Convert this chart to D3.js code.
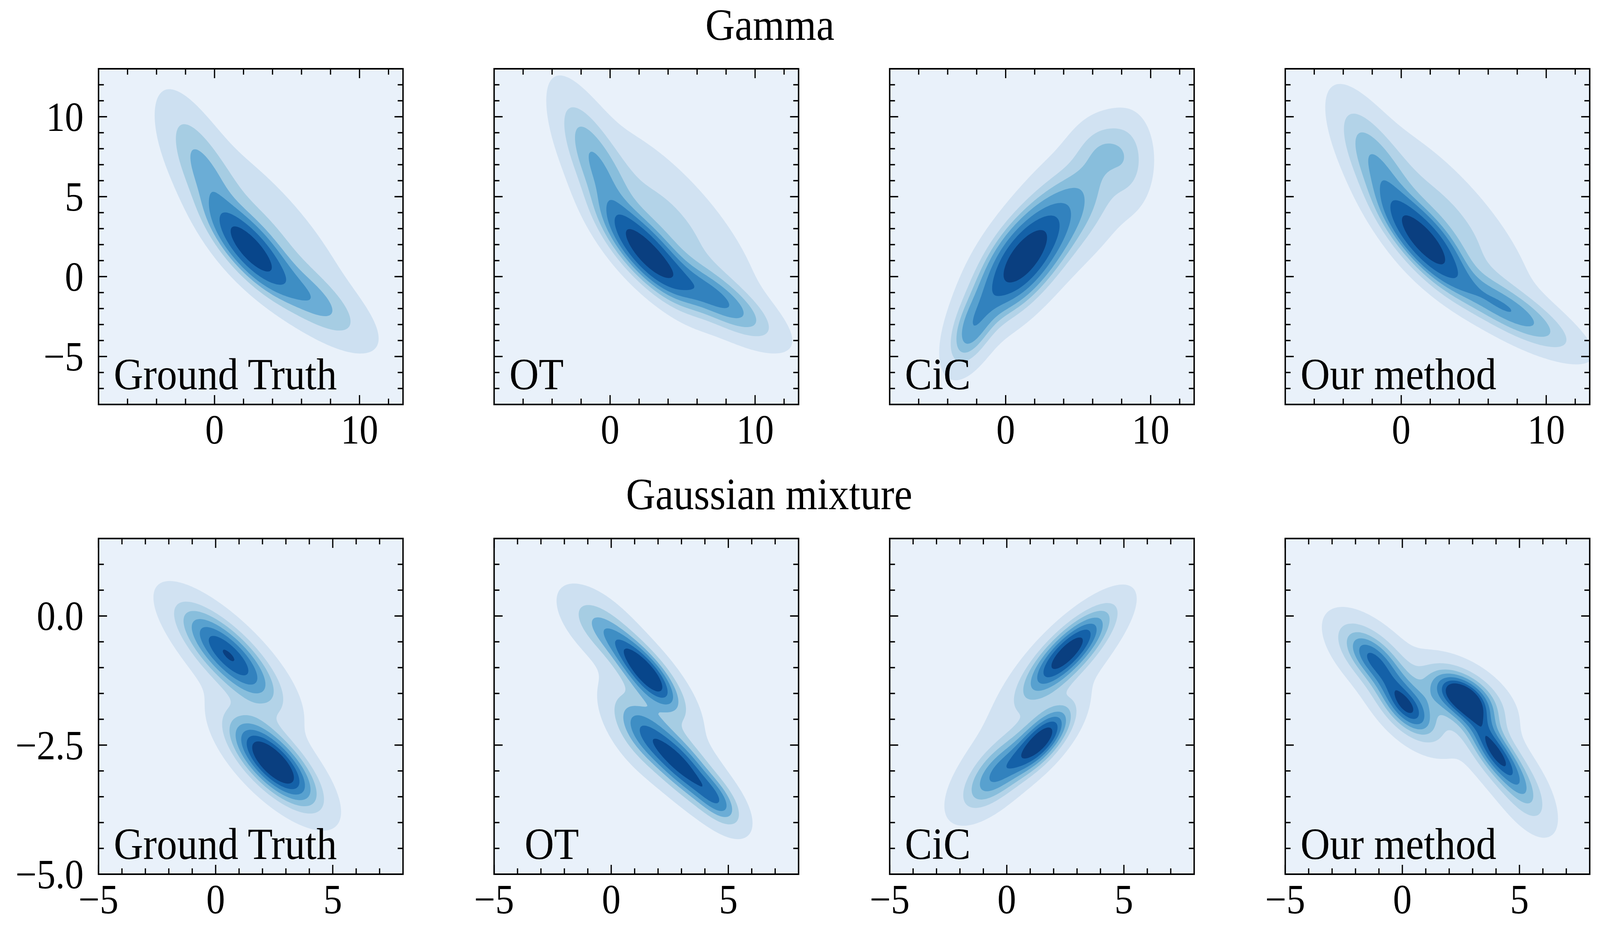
<!DOCTYPE html>
<html><head><meta charset="utf-8">
<script src="https://cdn.jsdelivr.net/npm/d3@7"></script>
<style>html,body{margin:0;padding:0;background:#fff;overflow:hidden}svg{display:block;width:100vw;height:100vh}</style>
</head><body>
<svg id="chart" viewBox="0 0 4514 2390" preserveAspectRatio="none"></svg>
<script>
// ---------------- data ----------------
const rowTitles = ["Gamma", "Gaussian mixture"];
const methods = ["Ground Truth", "OT", "CiC", "Our method"];

const gammaXDomain = [-8, 13];
const gammaYDomain = [-8, 13];
const gammaXTicks = [0, 10];
const gammaXMinor = [-6, -4, -2, 2, 4, 6, 8, 12];
const gammaYTicks = [-5, 0, 5, 10];
const gammaYMinor = [-7, -6, -4, -3, -2, -1, 1, 2, 3, 4, 6, 7, 8, 9, 11, 12];

const gmXDomain = [-5, 8];
const gmYDomain = [-5, 1.5];
const gmXTicks = [-5, 0, 5];
const gmXMinor = [-4, -3, -2, -1, 1, 2, 3, 4, 6, 7];
const gmYTicks = [-5, -2.5, 0];
const gmYMinor = [-4.5, -4, -3.5, -3, -2, -1.5, -1, -0.5, 0.5, 1];

// density components: [weight, meanX, meanY, sdX, sdY, corr]
const gammaGT = [
  [0.40, 2.45, 1.75, 1.51, 1.51, -0.754],
  [0.17, -0.7, 6.4, 1.56, 2.56, -0.733],
  [0.17, 6.3, -1.2, 2.24, 1.60, -0.76],
  [0.26, 3.4, 3.0, 3.56, 3.56, -0.82]
];
const gammaOT = [
  [0.36, 2.5, 1.5, 1.72, 1.72, -0.784],
  [0.17, -0.9, 6.8, 1.60, 2.71, -0.756],
  [0.19, 7.0, -1.2, 2.35, 1.5, -0.80],
  [0.28, 4.0, 3.3, 3.7, 3.7, -0.77]
];
const gammaCiC = [
  [0.54, 1.1, 1.0, 2.0, 2.23, 0.62],
  [0.09, -2.4, -3.4, 1.1, 1.6, 0.5],
  [0.24, 4.8, 4.6, 2.3, 2.4, 0.45],
  [0.045, 6.6, 8.2, 1.3, 1.3, 0.2],
  [0.045, 8.6, 7.2, 1.0, 1.8, 0.0]
];
const gammaOurs = [
  [0.37, 1.6, 2.2, 1.655, 1.655, -0.766],
  [0.17, -1.6, 6.6, 1.69, 2.56, -0.742],
  [0.20, 7.2, -2.0, 2.8, 1.6, -0.82],
  [0.26, 3.0, 3.6, 3.6, 3.6, -0.80]
];
const gmGT = [
  [0.42, 0.55, -0.75, 1.35, 0.6, -0.78],
  [0.46, 2.45, -2.85, 1.15, 0.52, -0.72],
  [0.12, 1.5, -1.8, 2.0, 1.2, -0.85]
];
const gmOT = [
  [0.28, 1.5, -1.1, 1.0, 0.5, -0.78],
  [0.12, -0.5, -0.2, 1.0, 0.45, -0.6],
  [0.28, 3.0, -2.9, 1.05, 0.52, -0.72],
  [0.16, 1.2, -2.2, 0.9, 0.5, -0.6],
  [0.08, 4.6, -3.6, 0.7, 0.35, -0.6],
  [0.08, 2.0, -1.8, 2.0, 1.1, -0.85]
];
const gmCiC = [
  [0.38, 2.6, -0.7, 1.15, 0.52, 0.8],
  [0.24, 1.5, -2.4, 0.8, 0.4, 0.7],
  [0.20, -0.4, -3.05, 0.95, 0.45, 0.65],
  [0.18, 1.3, -1.7, 2.2, 1.1, 0.85]
];
const gmOurs = [
  [0.20, -1.3, -0.8, 1.0, 0.45, -0.6],
  [0.18, 0.2, -1.8, 0.9, 0.42, -0.6],
  [0.26, 2.6, -1.55, 1.05, 0.38, -0.5],
  [0.18, 3.9, -2.6, 0.85, 0.5, -0.7],
  [0.09, 5.2, -3.4, 0.8, 0.5, -0.6],
  [0.09, 1.5, -1.8, 2.2, 1.0, -0.8]
];

// iso-proportion levels and band colours
const props6 = [0.05, 0.2083, 0.3667, 0.525, 0.6833, 0.8417];
const props7 = [0.05, 0.1857, 0.3214, 0.4571, 0.5929, 0.7286, 0.8643];
const blues6 = ["#cde0f1", "#a6cde3", "#6badd6", "#3e8ec4", "#1c6aaf", "#08468b"];
const blues7 = ["#d1e2f2", "#b3d3e8", "#88bedc", "#58a1cf", "#3282be", "#1461a8", "#0a3f80"];
const bgColor = "#e9f1fa";

const rowComponents = [
  [gammaGT, gammaOT, gammaCiC, gammaOurs],
  [gmGT, gmOT, gmCiC, gmOurs]
];
const rowBands = [
  ["6", "7", "7", "7"],
  ["7", "6", "7", "7"]
];

// ---------------- layout ----------------
const svg = d3.select("#chart");
const FONT = "'Liberation Serif', 'DejaVu Serif', serif";
const panelLeft0 = 278, panelStep = 1116, panelSize = 859;
const rowTop = [176, 1378];
const titlePos = [[2172, 102], [2170, 1303]];

const rowCfg = [
  {xd: gammaXDomain, yd: gammaYDomain, xt: gammaXTicks, xm: gammaXMinor, yt: gammaYTicks, ym: gammaYMinor,
   xf: d3.format("d"), yf: d3.format("d")},
  {xd: gmXDomain, yd: gmYDomain, xt: gmXTicks, xm: gmXMinor, yt: gmYTicks, ym: gmYMinor,
   xf: d3.format("d"), yf: d3.format(".1f")}
];

function bvn(comps) {
  const pre = comps.map(([w, mx, my, sx, sy, r]) => {
    const q = 1 - r * r;
    return {w: w / (2 * Math.PI * sx * sy * Math.sqrt(q)), mx, my, sx, sy, r, q};
  });
  return (x, y) => {
    let s = 0;
    for (const c of pre) {
      const zx = (x - c.mx) / c.sx, zy = (y - c.my) / c.sy;
      s += c.w * Math.exp(-(zx * zx - 2 * c.r * zx * zy + zy * zy) / (2 * c.q));
    }
    return s;
  };
}

function isoLevels(values, props) {
  const sorted = Float64Array.from(values).sort().reverse();
  const total = d3.sum(values);
  const cum = new Float64Array(sorted.length);
  let acc = 0;
  for (let i = 0; i < sorted.length; i++) { acc += sorted[i]; cum[i] = acc / total; }
  return props.map(p => {
    const idx = d3.bisectLeft(cum, 1 - p);
    return sorted[Math.min(idx, sorted.length - 1)];
  });
}

const defs = svg.append("defs");
const N = 320;

rowComponents.forEach((row, ri) => {
  const cfg = rowCfg[ri];
  const top = rowTop[ri];
  svg.append("text").attr("x", titlePos[ri][0]).attr("y", titlePos[ri][1])
    .attr("text-anchor", "middle").attr("font-family", FONT).attr("font-size", 115)
    .text(rowTitles[ri]);

  row.forEach((comps, ci) => {
    const left = panelLeft0 + ci * panelStep;
    const xs = d3.scaleLinear().domain(cfg.xd).range([left, left + panelSize]);
    const ys = d3.scaleLinear().domain(cfg.yd).range([top + panelSize, top]);
    const g = svg.append("g");
    const clipId = `clip-${ri}-${ci}`;
    defs.append("clipPath").attr("id", clipId).append("rect")
      .attr("x", left).attr("y", top).attr("width", panelSize).attr("height", panelSize);

    g.append("rect").attr("x", left).attr("y", top).attr("width", panelSize).attr("height", panelSize)
      .attr("fill", bgColor);

    const xw = cfg.xd[1] - cfg.xd[0], yw = cfg.yd[1] - cfg.yd[0];
    const gx0 = cfg.xd[0] - 0.3 * xw, gx1 = cfg.xd[1] + 0.3 * xw;
    const gy0 = cfg.yd[0] - 0.3 * yw, gy1 = cfg.yd[1] + 0.3 * yw;
    const dx = (gx1 - gx0) / (N - 1), dy = (gy1 - gy0) / (N - 1);
    const f = bvn(comps);
    const values = new Float64Array(N * N);
    for (let j = 0; j < N; j++) for (let i = 0; i < N; i++)
      values[j * N + i] = f(gx0 + i * dx, gy0 + j * dy);

    const bands = rowBands[ri][ci] === "6" ? {props: props6, cols: blues6} : {props: props7, cols: blues7};
    const levels = isoLevels(values, bands.props);
    const contours = d3.contours().size([N, N]).thresholds(levels)(values);
    const proj = d3.geoTransform({
      point: function(px, py) {
        this.stream.point(xs(gx0 + (px - 0.5) * dx), ys(gy0 + (py - 0.5) * dy));
      }
    });
    const path = d3.geoPath(proj);
    g.append("g").attr("clip-path", `url(#${clipId})`)
      .selectAll("path").data(contours).join("path")
      .attr("d", path).attr("fill", (d, k) => bands.cols[k]).attr("stroke", "none");

    const tk = g.append("g").attr("stroke", "#000").attr("stroke-width", 3.5);
    const majL = 24, minL = 15;
    const drawX = (vals, len) => vals.forEach(v => {
      const x = xs(v);
      tk.append("line").attr("x1", x).attr("x2", x).attr("y1", top + panelSize).attr("y2", top + panelSize - len);
      tk.append("line").attr("x1", x).attr("x2", x).attr("y1", top).attr("y2", top + len);
    });
    const drawY = (vals, len) => vals.forEach(v => {
      const y = ys(v);
      tk.append("line").attr("y1", y).attr("y2", y).attr("x1", left).attr("x2", left + len);
      tk.append("line").attr("y1", y).attr("y2", y).attr("x1", left + panelSize).attr("x2", left + panelSize - len);
    });
    drawX(cfg.xt, majL); drawX(cfg.xm, minL);
    drawY(cfg.yt, majL); drawY(cfg.ym, minL);

    g.append("rect").attr("x", left).attr("y", top).attr("width", panelSize).attr("height", panelSize)
      .attr("fill", "none").attr("stroke", "#000").attr("stroke-width", 4);

    cfg.xt.forEach(v => {
      g.append("text").attr("x", xs(v)).attr("y", top + panelSize + 100)
        .attr("text-anchor", "middle").attr("font-family", FONT).attr("font-size", 106)
        .text(cfg.xf(v));
    });
    if (ci === 0) {
      cfg.yt.forEach(v => {
        g.append("text").attr("x", left - 42).attr("y", ys(v)).attr("dy", "0.34em")
          .attr("text-anchor", "end").attr("font-family", FONT).attr("font-size", 106)
          .text(cfg.yf(v));
      });
    }
    const labelOffset = (ri === 1 && ci === 1) ? 86 : 43;
    g.append("text").attr("x", left + labelOffset).attr("y", top + panelSize - 39)
      .attr("font-family", FONT).attr("font-size", 115).text(methods[ci]);
  });
});
</script>
</body></html>
